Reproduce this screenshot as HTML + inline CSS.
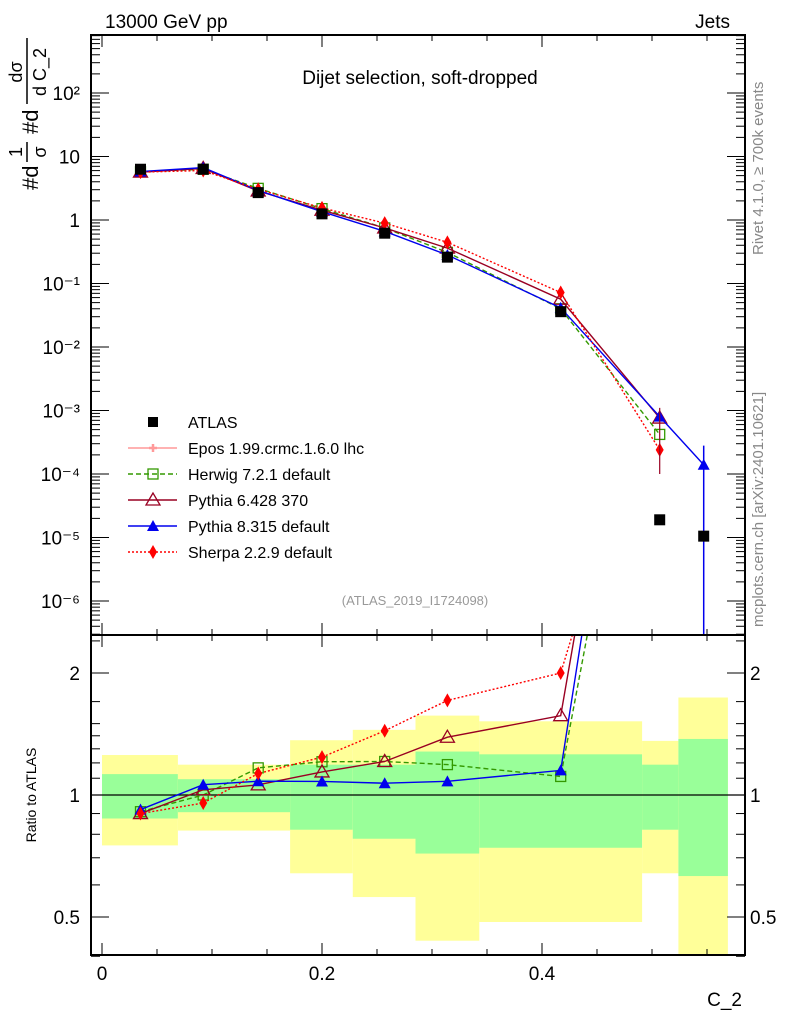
<!DOCTYPE html>
<html><head><meta charset="utf-8"><style>
html,body{margin:0;padding:0;background:#fff;}
svg{display:block;font-family:"Liberation Sans",sans-serif;}
</style></head><body>
<svg id="chart" width="786" height="1024" viewBox="0 0 786 1024">
<g id="bands"></g>
<g id="marks"></g>
<g id="axes"></g>
<text x="105" y="28" font-size="19">13000 GeV pp</text>
<text x="730" y="28" font-size="19" text-anchor="end">Jets</text>
<text x="420" y="84" font-size="19" text-anchor="middle">Dijet selection, soft-dropped</text>
<text x="415" y="605" font-size="13" fill="#999" text-anchor="middle">(ATLAS_2019_I1724098)</text>
<text transform="translate(763,255) rotate(-90)" font-size="15" fill="#888">Rivet 4.1.0, ≥ 700k events</text>
<text transform="translate(763,627) rotate(-90)" font-size="15" fill="#888">mcplots.cern.ch [arXiv:2401.10621]</text>
<g transform="translate(0,190) rotate(-90)">
<text x="0" y="38" font-size="22">#d</text>
<text x="38" y="22" font-size="18" text-anchor="middle">1</text>
<line x1="28" y1="27" x2="48" y2="27" stroke="#000" stroke-width="1.5"/>
<text x="38" y="46" font-size="18" text-anchor="middle">σ</text>
<text x="56" y="38" font-size="22">#d</text>
<text x="118" y="22" font-size="18" text-anchor="middle">dσ</text>
<line x1="86" y1="27" x2="152" y2="27" stroke="#000" stroke-width="1.5"/>
<text x="118" y="46" font-size="18" text-anchor="middle">d C_2</text>
</g>
<text transform="translate(36,795) rotate(-90)" font-size="14" text-anchor="middle">Ratio to ATLAS</text>
<text x="742" y="1006" font-size="19" text-anchor="end">C_2</text>
<g id="legend"></g>
</svg>
<script>
const binEdges=[0,0.069,0.115,0.171,0.228,0.285,0.343,0.491,0.524,0.569];
const xCenters=[0.035,0.092,0.142,0.2,0.257,0.314,0.417,0.507,0.547];
const atlas=[6.3,6.3,2.7,1.25,0.62,0.26,0.036,1.9e-5,1.05e-5];
const herwig=[5.73,6.3,3.15,1.51,0.75,0.309,0.040,4.2e-4];
const pythia6=[5.67,6.49,2.86,1.425,0.75,0.361,0.0565,7.6e-4];
const pythia8=[5.8,6.68,2.92,1.35,0.663,0.281,0.0414,8e-4,1.4e-4];
const sherpa=[5.67,6.02,3.05,1.55,0.893,0.445,0.072,2.4e-4];
const bandYellowHi=[1.255,1.188,1.188,1.365,1.448,1.57,1.52,1.36,1.74];
const bandYellowLo=[0.751,0.817,0.817,0.641,0.56,0.437,0.486,0.641,0.35];
const bandGreenHi=[1.126,1.094,1.094,1.188,1.188,1.28,1.26,1.188,1.375];
const bandGreenLo=[0.875,0.907,0.907,0.821,0.78,0.717,0.741,0.821,0.631];
const xTickLabels=["0","0.2","0.4"];
const mainTickLabels=["10\u207B\u2076","10\u207B\u2075","10\u207B\u2074","10\u207B\u00B3","10\u207B\u00B2","10\u207B\u00B9","1","10","10\u00B2"];
const ratioTickLabels=["0.5","1","2"];

const NS="http://www.w3.org/2000/svg";
const L=91,R=745,MT=35,MB=635,RT=635,RB=955;
function X(v){return 102+v*1100;}
function Y(v){return 220-63.5*Math.log10(v);}
function YR(r){return 795-122*Math.log2(r);}
function mk(tag,attrs,parent){const e=document.createElementNS(NS,tag);for(const k in attrs)e.setAttribute(k,attrs[k]);parent.appendChild(e);return e;}
const bands=document.getElementById('bands'),marks=document.getElementById('marks'),axes=document.getElementById('axes'),legend=document.getElementById('legend');

for(let i=0;i<bandYellowHi.length;i++){
  const x1=X(binEdges[i]),x2=X(binEdges[i+1]);
  const yh=Math.max(RT,YR(bandYellowHi[i])),yl=Math.min(RB,YR(bandYellowLo[i]));
  const r=mk('rect',{x:x1,y:yh,width:x2-x1,height:yl-yh,fill:'#ffff99'},bands);
  
  
  const gh=YR(bandGreenHi[i]),gl=YR(bandGreenLo[i]);
  const g=mk('rect',{x:x1,y:gh,width:x2-x1,height:gl-gh,fill:'#99ff99'},bands);
  
  
}
mk('line',{x1:L,y1:795,x2:R,y2:795,stroke:'#000','stroke-width':1.2},bands);

const defs=mk('defs',{},document.getElementById('chart'));
const c1=mk('clipPath',{id:'cm'},defs);mk('rect',{x:L,y:MT,width:R-L,height:MB-MT},c1);
const c2=mk('clipPath',{id:'cr'},defs);mk('rect',{x:L,y:RT,width:R-L,height:RB-RT},c2);
const gm=mk('g',{'clip-path':'url(#cm)'},marks);
const gr=mk('g',{'clip-path':'url(#cr)'},marks);

function marker(type,x,y,color,parent,s){
  s=s||6;let e;
  if(type==='square')e=mk('rect',{x:x-s,y:y-s,width:2*s,height:2*s,fill:'#000'},parent);
  else if(type==='osquare')e=mk('rect',{x:x-s+1,y:y-s+1,width:2*s-2,height:2*s-2,fill:'none',stroke:color,'stroke-width':1.3},parent);
  else if(type==='otri')e=mk('polygon',{points:`${x},${y-s-1} ${x-s-1},${y+s-1} ${x+s+1},${y+s-1}`,fill:'none',stroke:color,'stroke-width':1.3},parent);
  else if(type==='tri')e=mk('polygon',{points:`${x},${y-s} ${x-s},${y+s-1} ${x+s},${y+s-1}`,fill:color},parent);
  else if(type==='diamond')e=mk('polygon',{points:`${x},${y-s-1} ${x-s+2},${y} ${x},${y+s+1} ${x+s-2},${y}`,fill:color},parent);
  else if(type==='cross')e=mk('path',{d:`M${x-4} ${y}H${x+4}M${x} ${y-4}V${y+4}`,stroke:color,'stroke-width':2.5,fill:'none'},parent);
  
  
  return e;
}
const series=[
 {name:'herwig',vals:herwig,color:'#339900',dash:'5,3',m:'osquare'},
 {name:'pythia6',vals:pythia6,color:'#990022',dash:'',m:'otri'},
 {name:'pythia8',vals:pythia8,color:'#0000ee',dash:'',m:'tri'},
 {name:'sherpa',vals:sherpa,color:'#ff0000',dash:'2,2',m:'diamond'}
];
series.forEach(s=>{
  const pts=s.vals.map((v,i)=>X(xCenters[i])+','+Y(v)).join(' ');
  const pl=mk('polyline',{points:pts,fill:'none',stroke:s.color,'stroke-width':1.4,'stroke-dasharray':s.dash},gm);
  
  
  s.vals.forEach((v,i)=>marker(s.m,X(xCenters[i]),Y(v),s.color,gm));
  const rp=s.vals.map((v,i)=>X(xCenters[i])+','+YR(v/atlas[i])).join(' ');
  const rl=mk('polyline',{points:rp,fill:'none',stroke:s.color,'stroke-width':1.4,'stroke-dasharray':s.dash},gr);
  
  
  s.vals.forEach((v,i)=>marker(s.m,X(xCenters[i]),YR(v/atlas[i]),s.color,gr));
});
mk('line',{x1:X(xCenters[8]),y1:Y(2.8e-4),x2:X(xCenters[8]),y2:MB,stroke:'#0000ee','stroke-width':1.5},gm);
mk('line',{x1:X(xCenters[7]),y1:Y(1.1e-3),x2:X(xCenters[7]),y2:Y(1e-4),stroke:'#990022','stroke-width':1.2},gm);
atlas.forEach((v,i)=>marker('square',X(xCenters[i]),Y(v),'#000',gm,5.5));

[[MT,MB],[RT,RB]].forEach(([t,b])=>mk('rect',{x:L,y:t,width:R-L,height:b-t,fill:'none',stroke:'#000','stroke-width':2},axes));
for(let k=0;k<=11;k++){const v=k*0.05;const x=X(v);if(x>R)break;const len=(k%4===0)?12:6;
  [MT,RT].forEach(t=>mk('line',{x1:x,y1:t,x2:x,y2:t+len,stroke:'#000'},axes));
  [MB,RB].forEach(b=>mk('line',{x1:x,y1:b,x2:x,y2:b-len,stroke:'#000'},axes));}
xTickLabels.forEach((t,i)=>{const e=mk('text',{x:X(i*0.2),y:980,'font-size':19,'text-anchor':'middle'},axes);e.textContent=t;
  
  });
for(let d=-7;d<=3;d++){for(let m=1;m<=9;m++){const v=m*Math.pow(10,d);const y=Y(v);if(y<MT||y>MB)continue;const len=m===1?18:9;
  mk('line',{x1:L,y1:y,x2:L+len,y2:y,stroke:'#000'},axes);mk('line',{x1:R,y1:y,x2:R-len,y2:y,stroke:'#000'},axes);}}
mainTickLabels.forEach((t,i)=>{const e=mk('text',{x:80,y:Y(Math.pow(10,i-6))+7,'font-size':19,'text-anchor':'end'},axes);e.textContent=t;
  
  });
[0.4,0.5,0.6,0.7,0.8,0.9,1,1.1,1.2,1.3,1.4,1.5,1.7,2,2.4].forEach(v=>{const y=YR(v);const len=(v===0.5||v===1||v===2)?18:9;
  mk('line',{x1:L,y1:y,x2:L+len,y2:y,stroke:'#000'},axes);mk('line',{x1:R,y1:y,x2:R-len,y2:y,stroke:'#000'},axes);});
ratioTickLabels.forEach((t,i)=>{const y=YR(Math.pow(2,i-1))+7;
  const e=mk('text',{x:80,y:y,'font-size':19,'text-anchor':'end'},axes);e.textContent=t;
  
  
  const e2=mk('text',{x:750,y:y,'font-size':19},axes);e2.textContent=t;
  
  });

const leg=[['ATLAS','#000','','square'],['Epos 1.99.crmc.1.6.0 lhc','#ff9999','','cross'],['Herwig 7.2.1 default','#339900','5,3','osquare'],
 ['Pythia 6.428 370','#990022','','otri'],['Pythia 8.315 default','#0000ee','','tri'],['Sherpa 2.2.9 default','#ff0000','2,2','diamond']];
leg.forEach((e,i)=>{const y=422+i*26;
  const g=mk('g',{},legend);
  
  
  if(i>0)mk('line',{x1:128,y1:y,x2:177,y2:y,stroke:e[1],'stroke-width':1.4,'stroke-dasharray':e[2]},g);
  marker(e[3],153,y,e[1],g,e[3]==='square'?5:6);
  const t=mk('text',{x:188,y:y+6,'font-size':16},g);t.textContent=e[0];});
</script>
</body></html>
